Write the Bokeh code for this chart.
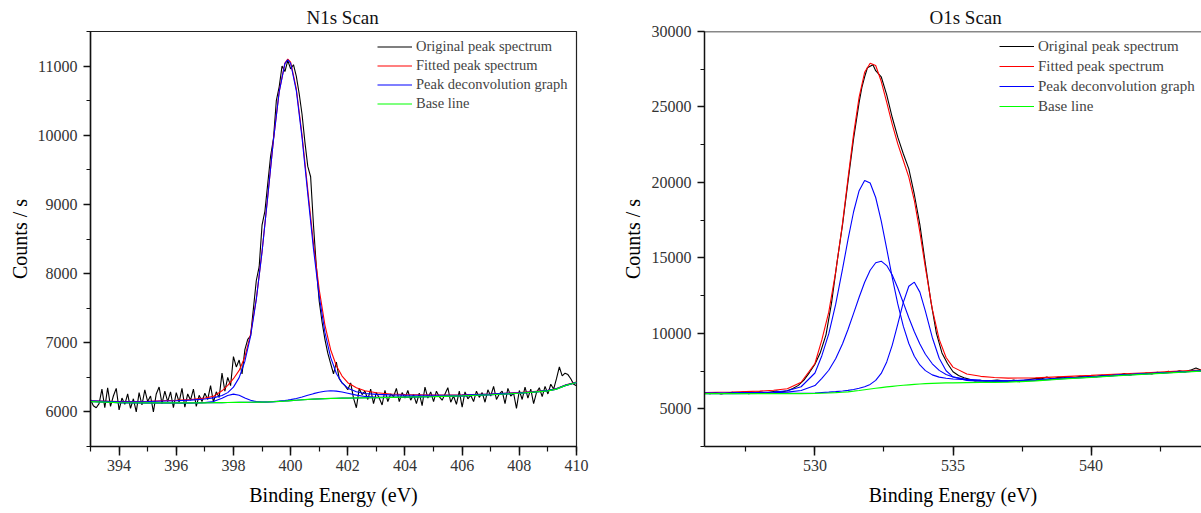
import numpy as np
from bokeh.plotting import figure
from bokeh.layouts import row
from bokeh.models import Range1d, SingleIntervalTicker, Span, Legend, LegendItem
from bokeh.embed import file_html
from bokeh.resources import INLINE

FONT = "Liberation Serif"

# ---------------- N1s scan ----------------
n1s_start, n1s_step = 393.0, 0.1
n1s_counts = [
    6180, 6090, 6060, 6120, 6330, 6060, 6350, 6080, 6230, 6340,
    6030, 6200, 6110, 6260, 6050, 6190, 6000, 6280, 6100, 6320,
    6150, 6230, 6000, 6260, 6360, 6120, 6300, 6150, 6290, 6060,
    6280, 6140, 6340, 6070, 6260, 6170, 6330, 6080, 6240, 6150,
    6270, 6180, 6380, 6140, 6290, 6210, 6560, 6300, 6500, 6380,
    6800, 6650, 6750, 6550, 6900, 7050, 7100, 7500, 7900, 8100,
    8700, 8900, 9300, 9700, 9950, 10500, 10700, 11000, 10920, 11080,
    10960, 11020, 10850, 10600, 10300, 9900, 9550, 9400, 8700, 8100,
    7600, 7300, 7050, 6850, 6700, 6550, 6720, 6480, 6420, 6380,
    6320, 6420, 6200, 6060, 6340, 6250, 6300, 6180, 6330, 6120,
    6280, 6200, 6100, 6310, 6150, 6260, 6220, 6340, 6150, 6280,
    6200, 6310, 6170, 6250, 6120, 6270, 6090, 6360, 6200, 6290,
    6150, 6300, 6220, 6170, 6260, 6350, 6140, 6230, 6110, 6300,
    6070, 6290, 6190, 6240, 6150, 6300, 6210, 6280, 6140, 6320,
    6230, 6370, 6180, 6260, 6300, 6120, 6340, 6230, 6270, 6050,
    6310, 6180, 6360, 6200, 6330, 6120, 6280, 6350, 6220, 6370,
    6260, 6400, 6330, 6480, 6650, 6520, 6560, 6540, 6480, 6400,
    6380,
]
n1s_energy = np.round(n1s_start + n1s_step * np.arange(len(n1s_counts)), 2)

n1s_fit_energy = [393.0, 394.0, 395.0, 396.0, 396.5, 397.0, 397.3, 397.6, 397.8, 398.0,
                  398.2, 398.4, 398.6, 398.8, 399.0, 399.2, 399.4, 399.6, 399.8, 399.9,
                  400.0, 400.2, 400.4, 400.6, 400.8, 401.0, 401.2, 401.4, 401.6, 401.8,
                  402.0, 402.3, 402.6, 403.0, 403.5, 404.0, 405.0, 406.0, 407.0, 408.0,
                  408.5, 409.0, 409.3, 409.6, 410.0]
n1s_baseline = [6150, 6135, 6130, 6130, 6130, 6132, 6133, 6135, 6136, 6137,
                6138, 6139, 6140, 6141, 6142, 6144, 6147, 6152, 6157, 6160,
                6163, 6169, 6175, 6180, 6185, 6189, 6192, 6195, 6197, 6199,
                6200, 6202, 6204, 6206, 6210, 6214, 6222, 6232, 6248, 6270,
                6285, 6305, 6330, 6380, 6425]
n1s_fitted = [6160, 6150, 6155, 6168, 6180, 6200, 6225, 6305, 6385, 6480,
              6600, 6795, 7125, 7635, 8315, 9115, 9936, 10630, 11043, 11101,
              11056, 10669, 10003, 9211, 8434, 7769, 7256, 6899, 6668, 6518,
              6423, 6350, 6305, 6278, 6260, 6252, 6245, 6248, 6260, 6280,
              6294, 6313, 6338, 6387, 6432]
n1s_peak_main = [6160, 6148, 6150, 6161, 6170, 6187, 6203, 6237, 6279, 6358,
                 6496, 6733, 7097, 7625, 8312, 9115, 9934, 10626, 11035, 11090,
                 11041, 10643, 9962, 9151, 8355, 7673, 7149, 6789, 6555, 6420,
                 6343, 6292, 6267, 6254, 6246, 6243, 6241, 6245, 6258, 6278,
                 6292, 6311, 6336, 6385, 6430]
n1s_peak_398 = [6150, 6135, 6130, 6130, 6130, 6134, 6149, 6197, 6238, 6257,
                6240, 6201, 6168, 6150, 6144, 6144, 6147, 6152, 6157, 6160,
                6163, 6169, 6175, 6180, 6185, 6189, 6192, 6195, 6197, 6199,
                6200, 6202, 6204, 6206, 6210, 6214, 6222, 6232, 6248, 6270,
                6285, 6305, 6330, 6380, 6425]
n1s_peak_401 = [6150, 6135, 6130, 6130, 6130, 6132, 6133, 6135, 6136, 6137,
                6138, 6139, 6140, 6141, 6142, 6144, 6149, 6156, 6165, 6171,
                6178, 6195, 6216, 6240, 6264, 6285, 6299, 6305, 6300, 6287,
                6270, 6243, 6224, 6212, 6211, 6214, 6222, 6232, 6248, 6270,
                6285, 6305, 6330, 6380, 6425]

# ---------------- O1s scan ----------------
o1s_energy = [526.0, 526.2, 526.4, 526.6, 526.8, 527.0, 527.2, 527.4, 527.6, 527.8,
              528.0, 528.2, 528.4, 528.6, 528.8, 529.0, 529.2, 529.4, 529.6, 529.8,
              530.0, 530.2, 530.4, 530.6, 530.8, 531.0, 531.2, 531.4, 531.6, 531.7,
              531.8, 531.9, 532.0, 532.1, 532.2, 532.4, 532.6, 532.8, 533.0, 533.2,
              533.4, 533.6, 533.8, 534.0, 534.2, 534.4, 534.6, 534.8, 535.0, 535.2,
              535.4, 535.6, 535.8, 536.0, 536.2, 536.4, 536.6, 536.8, 537.0, 537.2,
              537.4, 537.6, 537.8, 538.0, 538.2, 538.4, 538.6, 538.8, 539.0, 539.2,
              539.4, 539.6, 539.8, 540.0, 540.2, 540.4, 540.6, 540.8, 541.0, 541.2,
              541.4, 541.6, 541.8, 542.0, 542.2, 542.4, 542.6, 542.8, 543.0, 543.2,
              543.4, 543.6, 543.8, 544.0]
o1s_counts = [6050, 6000, 6080, 5980, 6040, 6090, 6030, 6110, 5990, 6060,
              6130, 6040, 6110, 6180, 6120, 6200, 6350, 6550, 6900, 7400,
              7950, 8750, 9900, 12000, 14700, 17200, 20100, 22900, 25300, 26300,
              27000, 27600, 27700, 27800, 27400, 27000, 25800, 24300, 23000, 21900,
              20900, 19200, 17200, 14600, 12100, 10000, 8700, 8000, 7450, 7200,
              7050, 6950, 6850, 6880, 6820, 6870, 6900, 6850, 6820, 6900,
              6800, 6880, 6950, 7020, 6980, 7100, 6960, 7090, 7060, 7130,
              7050, 7150, 7100, 7180, 7130, 7220, 7160, 7250, 7200, 7330,
              7240, 7300, 7270, 7370, 7300, 7420, 7350, 7480, 7400, 7510,
              7440, 7560, 7700, 7550]

o1s_fit_energy = [526.0, 527.0, 528.0, 528.5, 529.0, 529.5, 530.0, 530.25, 530.5, 530.75,
                  531.0, 531.2, 531.4, 531.6, 531.8, 532.0, 532.2, 532.4, 532.6, 532.8,
                  533.0, 533.2, 533.4, 533.6, 533.8, 534.0, 534.25, 534.5, 534.75, 535.0,
                  535.5, 536.0, 536.5, 537.0, 538.0, 539.0, 540.0, 541.0, 542.0, 543.0,
                  544.0]
o1s_baseline = [6000, 6000, 6000, 6000, 6005, 6010, 6020, 6030, 6045, 6065,
                6095, 6125, 6165, 6210, 6260, 6310, 6360, 6405, 6450, 6490,
                6525, 6560, 6590, 6615, 6640, 6660, 6680, 6695, 6710, 6720,
                6735, 6745, 6755, 6765, 6850, 6980, 7080, 7200, 7300, 7400,
                7500]
o1s_fitted = [6080, 6110, 6170, 6230, 6330, 6760, 8000, 9560, 11400, 14050,
              17300, 20300, 23200, 25650, 27300, 27900, 27750, 26700, 25300, 23850,
              22550, 21450, 20350, 18800, 16700, 14350, 11600, 9600, 8400, 7760,
              7300, 7150, 7070, 7030, 7050, 7130, 7210, 7300, 7390, 7480,
              7570]
o1s_peak_5318 = [6040, 6055, 6085, 6115, 6195, 6460, 7370, 8518, 9960, 11913,
                 14265, 16240, 18055, 19450, 20130, 19960, 19000, 17445, 15595, 13690,
                 11945, 10475, 9325, 8477, 7903, 7526, 7245, 7097, 7019, 6972,
                 6921, 6891, 6873, 6861, 6918, 7031, 7119, 7231, 7326, 7421,
                 7518]
o1s_peak_5323 = [6025, 6035, 6055, 6070, 6105, 6210, 6540, 7020, 7552, 8314,
                 9313, 10270, 11322, 12390, 13384, 14180, 14676, 14780, 14490, 13866,
                 13005, 12030, 11030, 10100, 9286, 8615, 7980, 7543, 7269, 7101,
                 6947, 6892, 6868, 6852, 6913, 7026, 7115, 7228, 7322, 7418,
                 7515]
o1s_peak_5335 = [6005, 6007, 6010, 6012, 6020, 6030, 6050, 6080, 6104, 6134,
                 6177, 6221, 6281, 6355, 6457, 6615, 6882, 7342, 8105, 9220,
                 10615, 12055, 13120, 13390, 12730, 11473, 9725, 8350, 7520, 7114,
                 6880, 6833, 6817, 6811, 6878, 6999, 7094, 7210, 7308, 7406,
                 7505]

BLACK, RED, BLUE, GREEN = "#000000", "#ff0000", "#0000ff", "#00ff00"
LABELS = ["Original peak spectrum", "Fitted peak spectrum",
          "Peak deconvolution graph", "Base line"]


def style_axes(p, xticker, yticker, ylabel_standoff):
    p.xaxis.ticker = xticker
    p.yaxis.ticker = yticker
    for ax in (p.xaxis[0], p.yaxis[0]):
        ax.axis_line_width = 1.5
        ax.axis_line_color = "#111111"
        ax.major_tick_in = 0
        ax.minor_tick_in = 0
        ax.major_tick_line_width = 1.5
        ax.minor_tick_line_width = 1.2
        ax.major_tick_line_color = "#111111"
        ax.minor_tick_line_color = "#111111"
        ax.major_label_text_font = FONT
        ax.major_label_text_font_size = "16px"
        ax.major_label_text_color = "#333333"
        ax.axis_label_text_font = FONT
        ax.axis_label_text_font_size = "20px"
        ax.axis_label_text_font_style = "normal"
        ax.axis_label_text_color = "#000000"
    p.xaxis.major_tick_out = 9
    p.xaxis.minor_tick_out = 5
    p.yaxis.major_tick_out = 7
    p.yaxis.minor_tick_out = 4
    p.xaxis.major_label_standoff = 4
    p.yaxis.major_label_standoff = 6
    p.xaxis.axis_label_standoff = 10
    p.yaxis.axis_label_standoff = ylabel_standoff
    p.xgrid.visible = False
    p.ygrid.visible = False


def make_panel(title, title_offset, xr, yr, xtick, ytick, frame_w, border_left,
               border_right, ylabel_standoff, fit_x, data_x, data_y, fitted, peaks,
               baseline, legend_xy, legend_font, legend_row):
    p = figure(frame_width=frame_w, frame_height=415,
               x_range=Range1d(*xr), y_range=Range1d(*yr),
               output_backend="svg", toolbar_location=None,
               min_border_left=border_left, min_border_right=border_right,
               min_border_top=31, min_border_bottom=67)
    p.title.text = title
    p.title.text_font = FONT
    p.title.text_font_style = "normal"
    p.title.text_font_size = "19px"
    p.title.text_color = "#111111"
    p.title.align = "left"
    p.title.offset = title_offset
    p.title.standoff = 7
    style_axes(p, SingleIntervalTicker(interval=xtick, num_minor_ticks=2),
               SingleIntervalTicker(interval=ytick, num_minor_ticks=2),
               ylabel_standoff)
    p.xaxis.axis_label = "Binding Energy (eV)"
    p.yaxis.axis_label = "Counts / s"

    r_data = p.line(data_x, data_y, line_color=BLACK, line_width=1.1)
    r_fit = p.line(fit_x, fitted, line_color=RED, line_width=1.1)
    r_peaks = [p.line(fit_x, pk, line_color=BLUE, line_width=1.1) for pk in peaks]
    r_base = p.line(fit_x, baseline, line_color=GREEN, line_width=1.2)

    legend = Legend(items=[LegendItem(label=LABELS[0], renderers=[r_data]),
                           LegendItem(label=LABELS[1], renderers=[r_fit]),
                           LegendItem(label=LABELS[2], renderers=[r_peaks[0]]),
                           LegendItem(label=LABELS[3], renderers=[r_base])],
                    location=legend_xy, border_line_color=None,
                    background_fill_alpha=0.0, padding=3, margin=0,
                    spacing=2, glyph_width=35, glyph_height=legend_row,
                    label_height=legend_row, label_standoff=4,
                    label_text_font=FONT, label_text_font_size=legend_font)
    p.add_layout(legend)
    return p


p1 = make_panel("N1s Scan", 216, (393, 410), (5500, 11500), 2, 1000, 486, 90, 24, 4,
                n1s_fit_energy, n1s_energy, n1s_counts, n1s_fitted,
                [n1s_peak_398, n1s_peak_main, n1s_peak_401], n1s_baseline,
                (287, 334), "14.5px", 17)
p1.outline_line_color = "#222222"
p1.outline_line_width = 1.2

p2 = make_panel("O1s Scan", 225, (526, 544), (2500, 30000), 5, 5000, 497, 104, 0, 5,
                o1s_fit_energy, o1s_energy, o1s_counts, o1s_fitted,
                [o1s_peak_5318, o1s_peak_5323, o1s_peak_5335], o1s_baseline,
                (295, 331), "15px", 18)
p2.outline_line_color = None
p2.add_layout(Span(location=30000, dimension="width", line_color="#111111",
                   line_width=1.5))

layout = row(p1, p2, spacing=0)
open("out.html", "w").write(file_html(layout, INLINE))
